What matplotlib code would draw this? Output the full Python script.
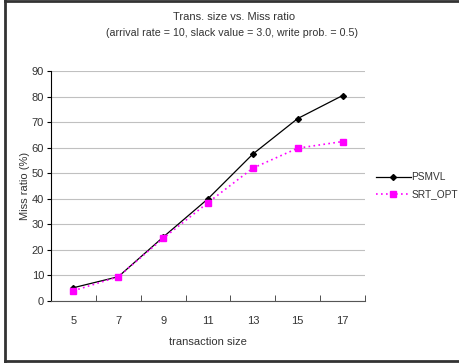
import matplotlib
matplotlib.use("Agg")
import matplotlib.pyplot as plt
import numpy as np

sizes = ["5", "7", "9", "11", "13", "15", "17"]
psmvl = [5.2, 9.5, 25.0, 40.0, 57.5, 71.4, 80.4]
srt_opt = [4.0, 9.5, 24.5, 38.5, 52.0, 59.8, 62.4]

plt.rcParams['font.family'] = ['Liberation Sans', 'DejaVu Sans']
txt = "#333333"

fig = plt.figure(figsize=(4.59, 3.63), dpi=100)
ax = fig.add_axes([51/459, (363-301)/363, (365-51)/459, 230/363])

x = np.arange(len(sizes))
ax.plot(x, psmvl, color="black", lw=0.9, marker="D", ms=3, label="PSMVL")
ax.plot(x, srt_opt, color="#ff00ff", lw=1.2, ls=(0, (1, 2)), marker="s", ms=4.5,
        label="SRT_OPT")

ax.set_xlim(-0.5, len(sizes) - 0.5)
ax.set_ylim(0, 90)
ax.set_yticks(range(0, 91, 10))
ax.set_xticks(x)
ax.set_xticklabels(sizes)
ax.set_xticks(np.arange(len(sizes)) + 0.5, minor=True)
ax.tick_params(axis="x", which="major", length=0, pad=11, labelsize=8, labelcolor=txt)
ax.tick_params(axis="x", which="minor", direction="in", length=4, color="#333333")
ax.tick_params(axis="y", direction="out", length=3, labelsize=8, labelcolor=txt, pad=2)
ax.yaxis.grid(True, color="#c0c0c0", lw=0.8)
ax.set_axisbelow(True)
for s in ["top", "right"]:
    ax.spines[s].set_visible(False)
ax.spines["left"].set_color("black")
ax.spines["bottom"].set_color("#555555")

ax.set_xlabel("transaction size", fontsize=8, color=txt, labelpad=8)
ax.set_ylabel("Miss ratio (%)", fontsize=8, color=txt, labelpad=1)

fig.text(234/459, 1 - 17/363, "Trans. size vs. Miss ratio", ha="center", va="center",
         fontsize=8, color=txt)
fig.text(232/459, 1 - 33/363, "(arrival rate = 10, slack value = 3.0, write prob. = 0.5)",
         ha="center", va="center", fontsize=7.7, color=txt)

ax.legend(loc="center left", bbox_to_anchor=(372/459, 1 - 186/363),
          bbox_transform=fig.transFigure, frameon=False, fontsize=7.3,
          handlelength=3.4, handletextpad=0.1, labelspacing=0.7, borderaxespad=0,
          labelcolor=txt)

# figure frame (left, top, bottom)
fig.add_artist(plt.Line2D([5/459, 5/459], [1/363, 1], transform=fig.transFigure,
                          color="#333333", lw=2))
fig.add_artist(plt.Line2D([5/459, 1], [1 - 1/363, 1 - 1/363], transform=fig.transFigure,
                          color="#333333", lw=2))
fig.add_artist(plt.Line2D([5/459, 1], [2/363, 2/363], transform=fig.transFigure,
                          color="#333333", lw=2))

fig.savefig("out.png", dpi=100)
plt.close()
